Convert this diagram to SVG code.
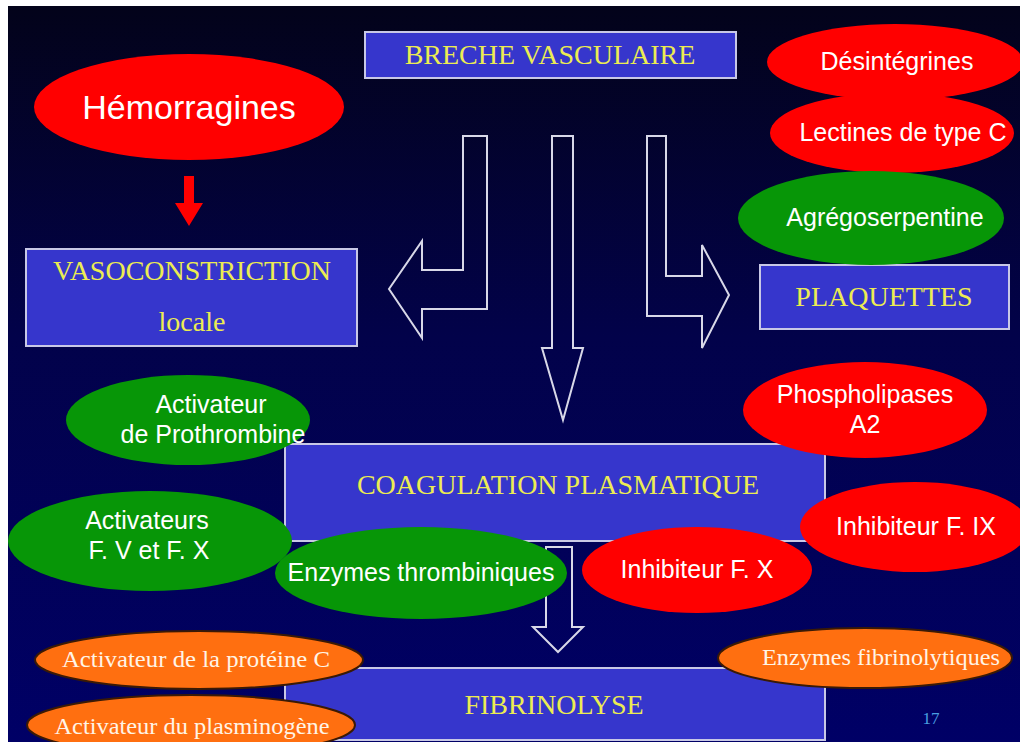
<svg xmlns="http://www.w3.org/2000/svg" width="1020" height="742" viewBox="0 0 1020 742">
  <defs>
    <linearGradient id="bg" x1="0" y1="0" x2="0" y2="1">
      <stop offset="0" stop-color="#03031a"/>
      <stop offset="0.45" stop-color="#02024a"/>
      <stop offset="1" stop-color="#000066"/>
    </linearGradient>
    <style>
      .box { fill: #3636cc; stroke: #c8c8e6; stroke-width: 2; }
      .btxt { font-family: "Liberation Serif", "Times New Roman", serif; fill: #ecec52; text-anchor: middle; font-size: 28px; }
      .red { fill: #ff0000; }
      .green { fill: #079607; }
      .orange { fill: #ff6f10; stroke: #3a1a05; stroke-width: 2; }
      .etxt { font-family: "Liberation Sans", Arial, sans-serif; fill: #ffffff; text-anchor: middle; font-size: 25px; }
      .otxt { font-family: "Liberation Serif", "Times New Roman", serif; fill: #fff4e6; text-anchor: middle; font-size: 23px; }
      .flow { fill: none; stroke: #d8d8e8; stroke-width: 2; stroke-linejoin: miter; }
    </style>
  </defs>

  <!-- page and slide background -->
  <rect x="0" y="0" width="1020" height="742" fill="#ffffff"/>
  <rect x="8" y="6" width="1012" height="736" fill="url(#bg)"/>

  <!-- process boxes -->
  <g id="breche">
    <rect class="box" x="365" y="32" width="371" height="46"/>
    <text class="btxt" x="550" y="64">BRECHE VASCULAIRE</text>
  </g>
  <g id="vasoconstriction">
    <rect class="box" x="26" y="249" width="331" height="97"/>
    <text class="btxt" x="192" y="280">VASOCONSTRICTION</text>
    <text class="btxt" x="192" y="331">locale</text>
  </g>
  <g id="plaquettes">
    <rect class="box" x="760" y="265" width="249" height="64"/>
    <text class="btxt" x="884" y="306">PLAQUETTES</text>
  </g>
  <g id="coagulation">
    <rect class="box" x="285" y="444" width="540" height="97"/>
    <text class="btxt" x="558" y="494">COAGULATION PLASMATIQUE</text>
  </g>
  <g id="fibrinolyse">
    <rect class="box" x="285" y="668" width="540" height="72"/>
    <text class="btxt" x="554" y="714">FIBRINOLYSE</text>
  </g>

  <!-- connectors: outlined block arrows -->
  <g id="connectors">
    <polygon class="flow" points="463,136 487,136 487,309 422,309 422,338 389,289 422,241 422,270 463,270"/>
    <polygon class="flow" points="552,136 573,136 573,348 583,348 563,420 542,348 552,348"/>
    <polygon class="flow" points="647,136 666,136 666,276 702,276 702,245 729,295 702,348 702,316 647,316"/>
    <polygon class="flow" points="546,547 572,547 572,627 583,627 558,652 533,627 546,627"/>
    <polygon class="red" points="184,176 194,176 194,203 203,203 189,226 175,203 184,203"/>
  </g>

  <!-- agents acting on each stage -->
  <g id="hemorragines">
    <ellipse class="red" cx="189" cy="107" rx="155" ry="53"/>
    <text class="etxt" x="189" y="119" style="font-size:34px">Hémorragines</text>
  </g>
  <g id="desintegrines">
    <ellipse class="red" cx="895" cy="62" rx="128" ry="38"/>
    <text class="etxt" x="897" y="70">Désintégrines</text>
  </g>
  <g id="lectines">
    <ellipse class="red" cx="892" cy="133" rx="122" ry="40"/>
    <text class="etxt" x="903" y="141">Lectines de type C</text>
  </g>
  <g id="agregoserpentine">
    <ellipse class="green" cx="871" cy="218" rx="133" ry="47"/>
    <text class="etxt" x="885" y="226">Agrégoserpentine</text>
  </g>
  <g id="activateur-prothrombine">
    <ellipse class="green" cx="188" cy="420" rx="122" ry="45"/>
    <text class="etxt" x="211" y="413">Activateur</text>
    <text class="etxt" x="213" y="443">de Prothrombine</text>
  </g>
  <g id="phospholipases">
    <ellipse class="red" cx="865" cy="410" rx="122" ry="48"/>
    <text class="etxt" x="865" y="403">Phospholipases</text>
    <text class="etxt" x="865" y="433">A2</text>
  </g>
  <g id="activateurs-fv-fx">
    <ellipse class="green" cx="150" cy="541" rx="142" ry="50"/>
    <text class="etxt" x="147" y="529">Activateurs</text>
    <text class="etxt" x="149" y="559">F. V et F. X</text>
  </g>
  <g id="inhibiteur-fix">
    <ellipse class="red" cx="915" cy="527" rx="115" ry="45"/>
    <text class="etxt" x="916" y="535">Inhibiteur F. IX</text>
  </g>
  <g id="enzymes-thrombiniques">
    <ellipse class="green" cx="421" cy="573" rx="146" ry="46"/>
    <text class="etxt" x="421" y="581">Enzymes thrombiniques</text>
  </g>
  <g id="inhibiteur-fx">
    <ellipse class="red" cx="697" cy="570" rx="115" ry="43"/>
    <text class="etxt" x="697" y="578">Inhibiteur F. X</text>
  </g>
  <g id="activateur-proteine-c">
    <ellipse class="orange" cx="199" cy="660" rx="164" ry="29"/>
    <text class="otxt" x="196" y="667" textLength="268" lengthAdjust="spacingAndGlyphs">Activateur de la protéine C</text>
  </g>
  <g id="activateur-plasminogene">
    <ellipse class="orange" cx="191" cy="725" rx="164" ry="30"/>
    <text class="otxt" x="192" y="734" textLength="275" lengthAdjust="spacingAndGlyphs">Activateur du plasminogène</text>
  </g>
  <g id="enzymes-fibrinolytiques">
    <ellipse class="orange" cx="865" cy="658" rx="147" ry="30"/>
    <text class="otxt" x="881" y="665" textLength="238" lengthAdjust="spacingAndGlyphs">Enzymes fibrinolytiques</text>
  </g>

  <!-- slide number -->
  <text x="931" y="724" font-family="Liberation Serif, serif" font-size="17" fill="#4a9ee0" text-anchor="middle">17</text>
</svg>
